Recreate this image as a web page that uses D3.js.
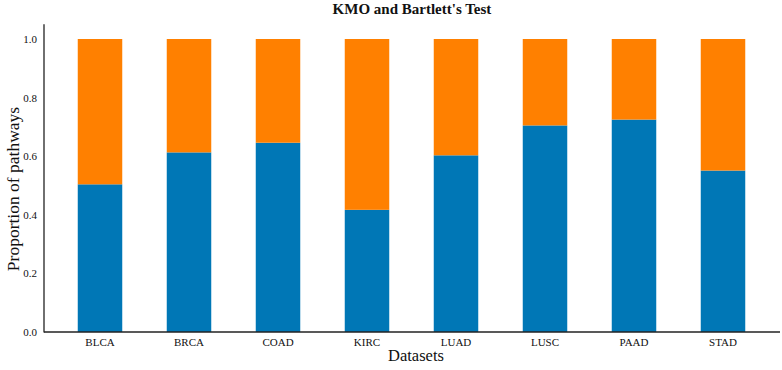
<!DOCTYPE html>
<html><head><meta charset="utf-8">
<script src="https://cdn.jsdelivr.net/npm/d3@7"></script>
<style>body{margin:0;background:#fff}svg{display:block}</style>
</head><body><svg id="c" width="782" height="370"></svg>
<script>
const categories = ["BLCA","BRCA","COAD","KIRC","LUAD","LUSC","PAAD","STAD"];
const passValues = [0.504,0.613,0.646,0.417,0.603,0.705,0.725,0.551];
const failValues = passValues.map(v => 1 - v);
const yTicks = [0.0,0.2,0.4,0.6,0.8,1.0];
const colors = ["#0077b6","#ff8000"];
const FONT = '"Liberation Serif","Times New Roman","DejaVu Serif",serif';

const svg = d3.select("#c");
const x = d3.scaleBand().domain(categories).range([55.5,767.5]).paddingInner(0.5).paddingOuter(0.25);
const y = d3.scaleLinear().domain([0,1.05]).range([332,24.35]);

const stackData = categories.map((c,i)=>({cat:c, pass:passValues[i], fail:failValues[i]}));
const series = d3.stack().keys(["pass","fail"])(stackData);

svg.append("g").selectAll("g").data(series).join("g")
  .attr("fill",(d,i)=>colors[i])
  .selectAll("rect").data(d=>d).join("rect")
  .attr("x",d=>x(d.data.cat))
  .attr("width",x.bandwidth())
  .attr("y",d=>y(d[1]))
  .attr("height",d=>y(d[0])-y(d[1]));

svg.append("line").attr("x1",44).attr("x2",44).attr("y1",y(1.05)).attr("y2",332.5).attr("stroke","#222").attr("stroke-width",1.3);
svg.append("line").attr("x1",44).attr("x2",780).attr("y1",332).attr("y2",332).attr("stroke","#222").attr("stroke-width",1.3);

const yAxis = d3.axisLeft(y).tickValues(yTicks).tickFormat(d3.format(".1f")).tickSize(0).tickPadding(0);
const gy = svg.append("g").attr("transform","translate(37,0)").call(yAxis);
gy.attr("font-family",FONT).attr("font-size",11);
gy.select(".domain").remove();
gy.selectAll("text").attr("fill","#111");

const xAxis = d3.axisBottom(x).tickSize(0).tickPadding(0);
const gx = svg.append("g").attr("transform","translate(0,338)").call(xAxis);
gx.attr("font-family",FONT).attr("font-size",11);
gx.select(".domain").remove();
gx.selectAll("text").attr("fill","#111");

svg.append("text").attr("x",412).attr("y",14).attr("text-anchor","middle")
  .attr("font-family",FONT).attr("font-size",15).attr("font-weight","bold").attr("fill","#111")
  .text("KMO and Bartlett's Test");
svg.append("text").attr("x",416).attr("y",361).attr("text-anchor","middle")
  .attr("font-family",FONT).attr("font-size",16.5).attr("fill","#111").text("Datasets");
svg.append("text").attr("transform","translate(19,189) rotate(-90)").attr("text-anchor","middle")
  .attr("font-family",FONT).attr("font-size",17.5).attr("fill","#111").text("Proportion of pathways");
</script></body></html>
